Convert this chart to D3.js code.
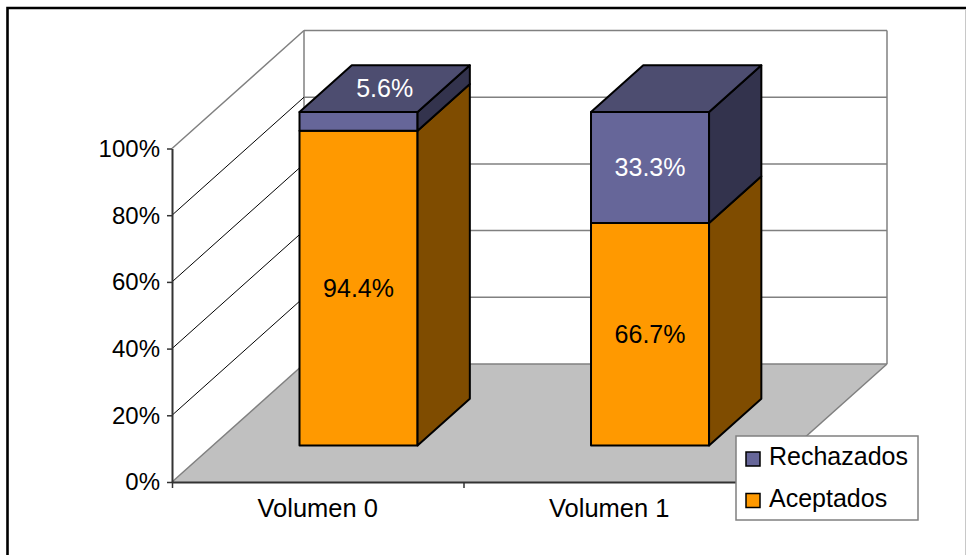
<!DOCTYPE html>
<html>
<head>
<meta charset="utf-8">
<script src="https://cdn.jsdelivr.net/npm/d3@7"></script>
<style>
  html, body { margin: 0; padding: 0; background: #fff; }
  svg { display: block; font-family: Arial, "Liberation Sans", sans-serif; }
</style>
</head>
<body>
<svg id="chart" width="967" height="555"></svg>
<script>
// ---- data ----
const categories = ["Volumen 0", "Volumen 1"];
const seriesNames = ["Aceptados", "Rechazados"];
const aceptados = [0.944, 0.667];
const rechazados = [0.056, 0.333];
const tickValues = [0, 0.2, 0.4, 0.6, 0.8, 1.0];

// ---- styles ----
const colors = {
  Aceptados:  { front: "#FF9900", side: "#7F4C00", top: "#BF7300" },
  Rechazados: { front: "#666699", side: "#33334D", top: "#4D4D70" }
};
const labelColor = { Aceptados: "#000", Rechazados: "#fff" };

const svg = d3.select("#chart");

// ---- geometry (oblique 3D) ----
const x0 = 172, x1 = 755;          // front floor edge
const depth = { dx: 132, dy: -118 }; // full depth offset
const y = d3.scaleLinear().domain([0, 1]).range([482, 148.5]);
const band = d3.scaleBand().domain(categories).range([x0, x1])
  .paddingInner(0.595).paddingOuter(0.2975);
const zFront = 0.309, zBack = 0.705;

const P = (x, v, z) => [x + z * depth.dx, y(v) + z * depth.dy];
const poly = pts => "M" + pts.map(p => p.join(",")).join("L") + "Z";
const line = (a, b) => "M" + a.join(",") + "L" + b.join(",");

// outer frame
svg.append("path").attr("d", "M7.5,560 L7.5,8 L966,8")
  .attr("fill", "none").attr("stroke", "#000").attr("stroke-width", 2.6);
svg.append("line").attr("x1", 965.5).attr("x2", 965.5).attr("y1", 9).attr("y2", 555)
  .attr("stroke", "#c8c8c8").attr("stroke-width", 1);

const walls = svg.append("g");
// floor
walls.append("path")
  .attr("d", poly([P(x0, 0, 0), P(x0, 0, 1), P(x1, 0, 1), P(x1, 0, 0)]))
  .attr("fill", "#C0C0C0").attr("stroke", "none");
walls.append("path").attr("d", line(P(x0, 0, 0), P(x0, 0, 1)))
  .attr("stroke", "#808080").attr("stroke-width", 1.5);
walls.append("path").attr("d", line(P(x1, 0, 0), P(x1, 0, 1)))
  .attr("stroke", "#808080").attr("stroke-width", 1.5);

// back wall gridlines
tickValues.forEach(v => {
  walls.append("path").attr("d", line(P(x0, v, 1), P(x1, v, 1)))
    .attr("stroke", "#808080").attr("stroke-width", 1.5);
});
walls.append("path").attr("d", line(P(x0, 0, 1), P(x0, 1, 1)))
  .attr("stroke", "#808080").attr("stroke-width", 1.5);
walls.append("path").attr("d", line(P(x1, 0, 1), P(x1, 1, 1)))
  .attr("stroke", "#808080").attr("stroke-width", 1.5);

// side wall gridlines
tickValues.filter(v => v > 0).forEach(v => {
  walls.append("path").attr("d", line(P(x0, v, 0), P(x0, v, 1)))
    .attr("stroke", v === 1 ? "#808080" : "#000")
    .attr("stroke-width", v === 1 ? 1.5 : 1);
});

// axes
const yAxis = svg.append("g").attr("transform", `translate(${x0},0)`)
  .call(d3.axisLeft(y).tickValues(tickValues).tickFormat(d3.format(".0%")).tickSize(5).tickSizeOuter(0));
yAxis.select(".domain").attr("stroke", "#333").attr("stroke-width", 2);
yAxis.selectAll(".tick line").attr("stroke", "#333").attr("stroke-width", 1.5);
yAxis.selectAll(".tick text").attr("font-size", 24).attr("fill", "#000")
  .attr("x", -12).attr("dy", "0.33em").attr("font-family", "Arial, 'Liberation Sans', sans-serif");

const xb = d3.scaleLinear().domain([0, categories.length]).range([x0, x1]);
const xAxis = svg.append("g").attr("transform", `translate(0,${y(0)})`)
  .call(d3.axisBottom(xb).tickValues(d3.range(categories.length + 1)).tickFormat("").tickSize(6).tickSizeOuter(0));
xAxis.select(".domain").attr("stroke", "#333").attr("stroke-width", 2);
xAxis.selectAll(".tick line").attr("stroke", "#333").attr("stroke-width", 1.5);

svg.append("g").selectAll("text").data(categories).join("text")
  .attr("x", d => band(d) + band.bandwidth() / 2)
  .attr("y", 517)
  .attr("text-anchor", "middle")
  .attr("font-size", 25.5)
  .text(d => d);

// ---- bars ----
const seriesVals = { Aceptados: aceptados, Rechazados: rechazados };
const barsG = svg.append("g");
const labelsG = svg.append("g");
categories.forEach((cat, i) => {
  const bx0 = band(cat), bx1 = band(cat) + band.bandwidth();
  let base = 0;
  seriesNames.forEach((s, si) => {
    const v = seriesVals[s][i];
    const lo = base, hi = base + v;
    const c = colors[s];
    const g = barsG.append("g");
    // front
    g.append("path").attr("d", poly([P(bx0, lo, zFront), P(bx1, lo, zFront), P(bx1, hi, zFront), P(bx0, hi, zFront)]))
      .attr("fill", c.front).attr("stroke", "#000").attr("stroke-width", 2).attr("stroke-linejoin", "round");
    // side
    g.append("path").attr("d", poly([P(bx1, lo, zFront), P(bx1, lo, zBack), P(bx1, hi, zBack), P(bx1, hi, zFront)]))
      .attr("fill", c.side).attr("stroke", "#000").attr("stroke-width", 2).attr("stroke-linejoin", "round");
    const isTop = si === seriesNames.length - 1;
    if (isTop) {
      g.append("path").attr("d", poly([P(bx0, hi, zFront), P(bx1, hi, zFront), P(bx1, hi, zBack), P(bx0, hi, zBack)]))
        .attr("fill", c.top).attr("stroke", "#000").attr("stroke-width", 2).attr("stroke-linejoin", "round");
    }
    // label
    const segH = y(lo) - y(hi);
    let lx, ly;
    if (segH < 30 && isTop) {
      const zm = (zFront + zBack) / 2;
      [lx, ly] = P((bx0 + bx1) / 2, hi, zm);
    } else {
      [lx, ly] = P((bx0 + bx1) / 2, (lo + hi) / 2, zFront);
    }
    labelsG.append("text")
      .attr("x", lx).attr("y", ly).attr("dy", "0.35em")
      .attr("text-anchor", "middle").attr("font-size", 25)
      .attr("fill", labelColor[s])
      .text(d3.format(".1%")(v));
    base = hi;
  });
});

// ---- legend ----
const leg = svg.append("g").attr("transform", "translate(736,436)");
leg.append("rect").attr("width", 182).attr("height", 84)
  .attr("fill", "#fff").attr("stroke", "#808080").attr("stroke-width", 1.5);
const legItems = seriesNames.slice().reverse();
legItems.forEach((s, k) => {
  leg.append("rect").attr("x", 10).attr("y", 16 + k * 41.5).attr("width", 14).attr("height", 14)
    .attr("fill", colors[s].front).attr("stroke", "#000").attr("stroke-width", 1.5);
  leg.append("text").attr("x", 33).attr("y", 29 + k * 41.5)
    .attr("font-size", 25).text(s);
});
</script>
</body>
</html>
